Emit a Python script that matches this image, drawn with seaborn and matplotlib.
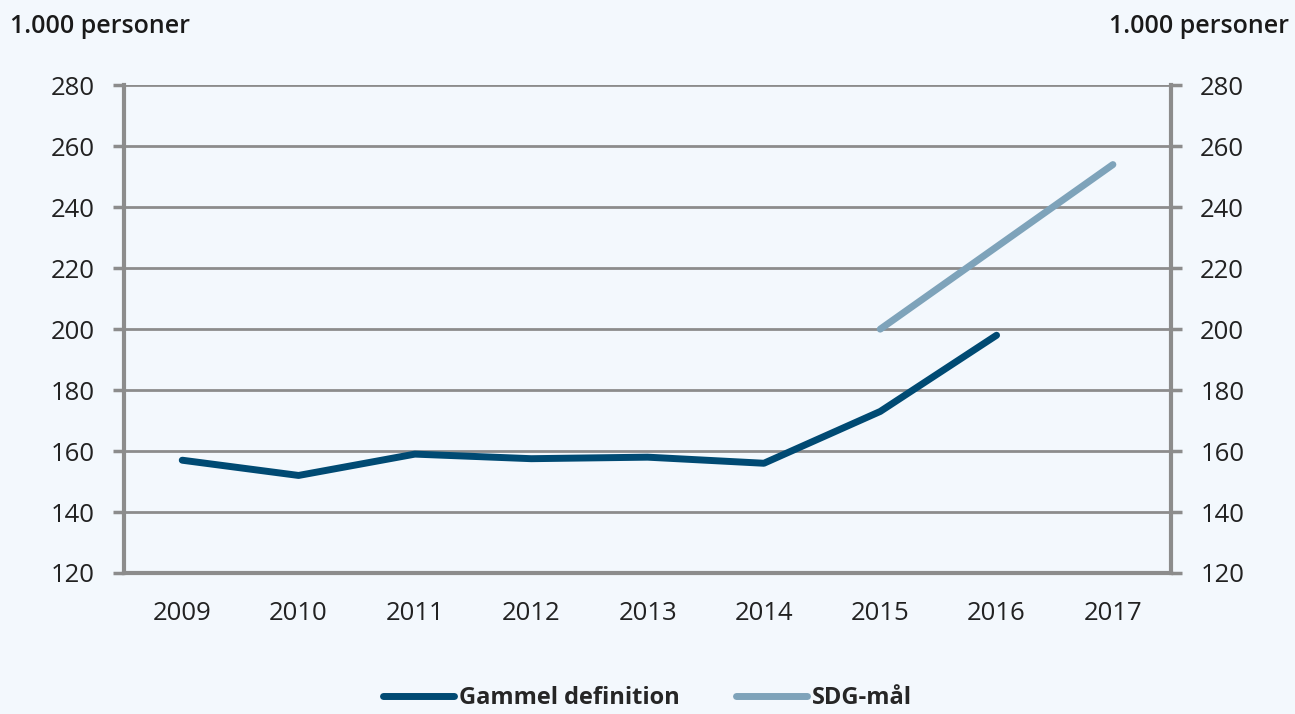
import pandas as pd
import numpy as np
import matplotlib
matplotlib.use("Agg")
import matplotlib.pyplot as plt
import seaborn as sns

years = ["2009", "2010", "2011", "2012", "2013", "2014", "2015", "2016", "2017"]
gammel = [157, 152, 159, 157.5, 158, 156, 173, 198, np.nan]
sdg = [np.nan, np.nan, np.nan, np.nan, np.nan, np.nan, 200, 227, 254]

df = pd.DataFrame({"Year": years, "Gammel definition": gammel, "SDG-mål": sdg})
df_long = df.melt(id_vars="Year", var_name="Serie", value_name="Personer").dropna()

bg = "#F3F8FD"
grey = "#8C8C8C"
sns.set_style("white")
plt.rcParams["font.family"] = ["Open Sans", "DejaVu Sans"]

fig = plt.figure(figsize=(12.95, 7.14), dpi=100, facecolor=bg)
ax = fig.add_axes([0.0958, 0.1975, 0.8085, 0.683])
ax.set_facecolor(bg)

xpos = {y: i for i, y in enumerate(years)}
df_long["x"] = df_long["Year"].map(xpos)

sns.lineplot(data=df_long, x="x", y="Personer", hue="Serie",
             palette={"Gammel definition": "#004A73", "SDG-mål": "#7EA3BA"},
             linewidth=5, ax=ax, legend=False)

ax.set_xlim(-0.5, len(years) - 0.5)
ax.set_ylim(120, 280)
ax.set_yticks(range(120, 281, 20))
ax.set_xticks(np.arange(len(years)))
ax.set_xticklabels(years)
ax.set_xticks(np.arange(-0.5, len(years), 1), minor=True)
ax.tick_params(axis="x", which="major", length=0, pad=20, labelsize=18.5, colors="#222222")
ax.tick_params(axis="x", which="minor", length=8, width=2.5, color=grey, direction="out")
ax.tick_params(axis="y", length=8, width=2.5, color=grey, labelsize=18.5, colors="#222222",
               left=True, right=True, labelleft=True, labelright=True, pad=13)
ax.yaxis.grid(True, color=grey, linewidth=2)
ax.set_axisbelow(True)
for s in ["left", "right", "bottom"]:
    ax.spines[s].set_color(grey)
    ax.spines[s].set_linewidth(3)
ax.spines["top"].set_visible(False)
ax.set_xlabel("")
ax.set_ylabel("")

fig.text(0.008, 0.963, "1.000 personer", fontsize=18, fontweight="semibold", color="#1a1a1a", va="center")
fig.text(0.995, 0.963, "1.000 personer", fontsize=18, fontweight="semibold", color="#1a1a1a",
         va="center", ha="right")

handles = [plt.Line2D([], [], color="#004A73", lw=5),
           plt.Line2D([], [], color="#7EA3BA", lw=5)]
leg = fig.legend(handles, ["Gammel definition", "SDG-mål"], loc="center",
                 bbox_to_anchor=(0.5, 0.022), ncol=2, frameon=False,
                 handlelength=3.0, handletextpad=0.2, columnspacing=2.4,
                 prop={"size": 17, "weight": "bold"})

fig.savefig("out.png", dpi=100, facecolor=bg)
